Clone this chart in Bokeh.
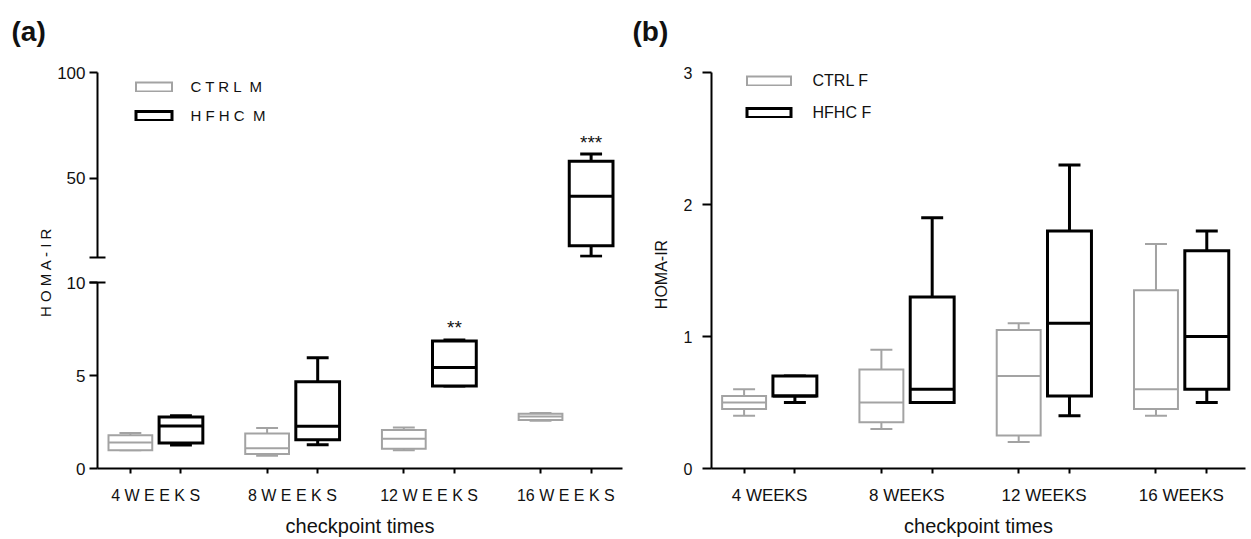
import math
from bokeh.plotting import figure
from bokeh.layouts import row, column
from bokeh.models import ColumnDataSource, FixedTicker, Legend, LegendItem, Label, Range1d
from bokeh.embed import file_html
from bokeh.resources import INLINE
from bokeh.core.properties import value

# ---------------- data ----------------
weeks_a = ["4 W E E K S", "8 W E E K S", "12 W E E K S", "16 W E E K S"]
weeks_b = ["4 WEEKS", "8 WEEKS", "12 WEEKS", "16 WEEKS"]

# panel (a) males: min, q1, median, q3, max
ctrl_m_min = [0.98, 0.68, 0.98, 2.57]
ctrl_m_q1 = [0.98, 0.78, 1.06, 2.61]
ctrl_m_med = [1.40, 1.09, 1.60, 2.79]
ctrl_m_q3 = [1.79, 1.88, 2.07, 2.95]
ctrl_m_max = [1.91, 2.18, 2.20, 2.98]

hfhc_m_min = [1.26, 1.28, 4.44, 13.0]
hfhc_m_q1 = [1.37, 1.54, 4.44, 18.0]
hfhc_m_med = [2.29, 2.27, 5.43, 41.4]
hfhc_m_q3 = [2.77, 4.67, 6.85, 58.0]
hfhc_m_max = [2.84, 5.96, 6.91, 61.4]
hfhc_m_sig = ["", "", "**", "***"]

# panel (b) females
ctrl_f_min = [0.40, 0.30, 0.20, 0.40]
ctrl_f_q1 = [0.45, 0.35, 0.25, 0.45]
ctrl_f_med = [0.50, 0.50, 0.70, 0.60]
ctrl_f_q3 = [0.55, 0.75, 1.05, 1.35]
ctrl_f_max = [0.60, 0.90, 1.10, 1.70]

hfhc_f_min = [0.50, 0.50, 0.40, 0.50]
hfhc_f_q1 = [0.55, 0.50, 0.55, 0.60]
hfhc_f_med = [0.55, 0.60, 1.10, 1.00]
hfhc_f_q3 = [0.70, 1.30, 1.80, 1.65]
hfhc_f_max = [0.70, 1.90, 2.30, 1.80]

# ---------------- style ----------------
FONT = "Liberation Sans"
GRAY = "#a3a3a3"
BLACK = "#000000"
TXT = "#111111"
centers = [1, 2, 3, 4]
OFF = 0.185
BOX_HW = 0.16
CAP_HW = 0.08
H = 539


def box_source(xs, mn, q1, med, q3, mx):
    return ColumnDataSource(dict(
        x=xs, left=[x - BOX_HW for x in xs], right=[x + BOX_HW for x in xs],
        cl=[x - CAP_HW for x in xs], cr=[x + CAP_HW for x in xs],
        mn=mn, q1=q1, med=med, q3=q3, mx=mx))


def draw_boxes(p, src, color, lw):
    kw = dict(source=src, line_color=color, line_width=lw, line_cap="butt")
    p.segment(x0="x", y0="q3", x1="x", y1="mx", **kw)
    p.segment(x0="x", y0="q1", x1="x", y1="mn", **kw)
    p.segment(x0="cl", y0="mx", x1="cr", y1="mx", **kw)
    p.segment(x0="cl", y0="mn", x1="cr", y1="mn", **kw)
    r = p.quad(left="left", right="right", bottom="q1", top="q3", source=src,
               fill_color="white", line_color=color, line_width=lw, line_join="miter")
    p.segment(x0="left", y0="med", x1="right", y1="med", **kw)
    return r


def make_fig(width, height, xr, yr, bl, br, bt, bb, **extra):
    p = figure(width=width, height=height, x_range=Range1d(*xr), y_range=Range1d(*yr),
               output_backend="svg", toolbar_location=None, title=None,
               min_border_left=bl, min_border_right=br,
               min_border_top=bt, min_border_bottom=bb, **extra)
    p.outline_line_color = None
    p.background_fill_color = "white"
    p.border_fill_color = "white"
    for g in p.grid:
        g.visible = False
    return p


def style_axis(ax, font_size, tick_out, standoff):
    ax.axis_line_color = BLACK
    ax.axis_line_width = 2
    ax.major_tick_line_color = BLACK
    ax.major_tick_line_width = 2
    ax.major_tick_out = tick_out
    ax.major_tick_in = 0
    ax.minor_tick_line_color = BLACK
    ax.minor_tick_line_width = 2
    ax.major_label_text_font = FONT
    ax.major_label_text_font_size = font_size
    ax.major_label_text_color = TXT
    ax.major_label_standoff = standoff
    ax.axis_label_text_font = FONT
    ax.axis_label_text_font_style = "normal"
    ax.axis_label_text_color = TXT


box_x_ctrl = [c - OFF for c in centers]
box_x_hfhc = [c + OFF for c in centers]
all_box_x = sorted(box_x_ctrl + box_x_hfhc)


def style_xaxis(ax, labels, font_size, standoff, label_standoff):
    style_axis(ax, font_size, 0, standoff)
    ax.ticker = FixedTicker(ticks=centers, minor_ticks=all_box_x)
    ax.major_label_overrides = {float(c): lab for c, lab in zip(centers, labels)}
    ax.major_tick_line_color = None
    ax.minor_tick_out = 5
    ax.minor_tick_in = 0
    ax.axis_label = "checkpoint times"
    ax.axis_label_text_font_size = "20px"
    ax.axis_label_standoff = label_standoff


# ---------------- panel (a) ----------------
XR_A = (0.5745, 4.4145)
UP_RANGE = (12.4, 100)
LOW_RANGE = (0, 10)

pa_up = make_fig(572, 269, XR_A, UP_RANGE, 40, 4, 72, 12, x_axis_location=None)
pa_low = make_fig(572, 270, XR_A, LOW_RANGE, 40, 4, 13, 70)

leg_renderers = None
for p, (lo, hi) in ((pa_up, UP_RANGE), (pa_low, LOW_RANGE)):
    s1 = box_source(box_x_ctrl, ctrl_m_min, ctrl_m_q1, ctrl_m_med, ctrl_m_q3, ctrl_m_max)
    s2 = box_source(box_x_hfhc, hfhc_m_min, hfhc_m_q1, hfhc_m_med, hfhc_m_q3, hfhc_m_max)
    r1 = draw_boxes(p, s1, GRAY, 2)
    r2 = draw_boxes(p, s2, BLACK, 3)
    keep = [i for i, m in enumerate(hfhc_m_max) if lo <= m <= hi and hfhc_m_sig[i]]
    sig_src = ColumnDataSource(dict(x=[box_x_hfhc[i] for i in keep],
                                    y=[hfhc_m_max[i] for i in keep],
                                    t=[hfhc_m_sig[i] for i in keep]))
    p.text(x="x", y="y", text="t", source=sig_src, text_font=value(FONT),
           text_font_size="19px", text_align="center", text_baseline="alphabetic",
           y_offset=-12, text_color=TXT)
    if p is pa_up:
        leg_renderers = (r1, r2)

ya = pa_up.yaxis[0]
style_axis(ya, "17px", 8, 4)
ya.ticker = FixedTicker(ticks=[50, 100], minor_ticks=[UP_RANGE[0] + 0.05])
ya.minor_tick_in = 8
ya.minor_tick_out = 8

yb = pa_low.yaxis[0]
style_axis(yb, "17px", 8, 4)
yb.ticker = FixedTicker(ticks=[0, 5, 10], minor_ticks=[10])
yb.minor_tick_in = 8
yb.minor_tick_out = 8

style_xaxis(pa_low.xaxis[0], weeks_a, "16px", 13, 8)

leg_a = Legend(items=[LegendItem(label="C T R L  M", renderers=[leg_renderers[0]]),
                      LegendItem(label="H F H C  M", renderers=[leg_renderers[1]])],
               location=(33.5, 132), glyph_width=45, glyph_height=11, label_standoff=15,
               spacing=9, padding=0, margin=0, border_line_color=None,
               background_fill_alpha=0, label_text_font=FONT, label_text_font_size="15px",
               label_height=20, label_text_color=TXT)
pa_up.add_layout(leg_a)

# label strip for panel (a)
pl_a = make_fig(54, H, (0, 54), (0, H), 0, 0, 0, 0, x_axis_location=None, y_axis_location=None)
pl_a.add_layout(Label(x=11, y=H - 30.5, text="(a)", text_font=FONT, text_font_size="28px",
                      text_font_style="bold", text_baseline="middle", text_align="left",
                      text_color="#111111"))
pl_a.add_layout(Label(x=45, y=H - 271.5, text="H O M A - I R", angle=math.pi / 2,
                      text_font=FONT, text_font_size="15px", text_baseline="middle",
                      text_align="center", text_color=TXT))

# label strip for panel (b)
pl_b = make_fig(50, H, (0, 50), (0, H), 0, 0, 0, 0, x_axis_location=None, y_axis_location=None)
pl_b.add_layout(Label(x=6, y=H - 30.5, text="(b)", text_font=FONT, text_font_size="28px",
                      text_font_style="bold", text_baseline="middle", text_align="left",
                      text_color="#111111"))
pl_b.add_layout(Label(x=35, y=H - 274, text="HOMA-IR", angle=math.pi / 2,
                      text_font=FONT, text_font_size="16px", text_baseline="middle",
                      text_align="center", text_color=TXT))

# ---------------- panel (b) ----------------
XR_B = (0.5776, 4.467)
pb = make_fig(574, H, XR_B, (0, 3), 35, 5, 72, 70)
sb1 = box_source(box_x_ctrl, ctrl_f_min, ctrl_f_q1, ctrl_f_med, ctrl_f_q3, ctrl_f_max)
sb2 = box_source(box_x_hfhc, hfhc_f_min, hfhc_f_q1, hfhc_f_med, hfhc_f_q3, hfhc_f_max)
rb1 = draw_boxes(pb, sb1, GRAY, 2)
rb2 = draw_boxes(pb, sb2, BLACK, 3)

yc = pb.yaxis[0]
style_axis(yc, "16px", 9, 10)
yc.ticker = FixedTicker(ticks=[0, 1, 2, 3])

style_xaxis(pb.xaxis[0], weeks_b, "17px", 12, 7)

leg_b = Legend(items=[LegendItem(label="CTRL F", renderers=[rb1]),
                      LegendItem(label="HFHC F", renderers=[rb2])],
               location=(29.5, 345.5), glyph_width=55, glyph_height=11, label_standoff=17,
               spacing=12, padding=0, margin=0, border_line_color=None,
               background_fill_alpha=0, label_text_font=FONT, label_text_font_size="16px",
               label_height=20, label_text_color=TXT)
pb.add_layout(leg_b)

layout = row(column(pl_a), column(pa_up, pa_low), column(pl_b), column(pb))
open("out.html", "w").write(file_html(layout, INLINE))
